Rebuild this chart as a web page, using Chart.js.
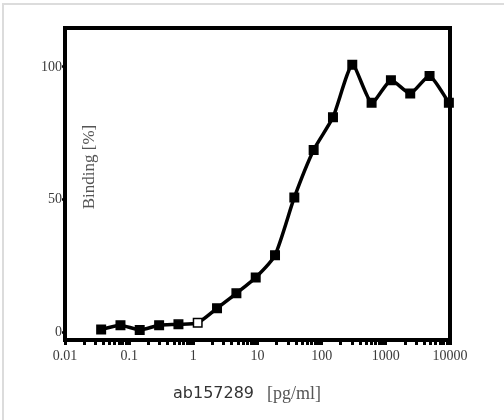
<!DOCTYPE html>
<html>
<head>
<meta charset="utf-8">
<script src="https://cdn.jsdelivr.net/npm/chart.js@4"></script>
<style>
  html, body { margin: 0; padding: 0; background: #fff; }
  canvas { display: block; }
</style>
</head>
<body>
<canvas id="c" width="504" height="420"></canvas>
<script>
// Data
const concentrations = [0.0366, 0.0732, 0.146, 0.293, 0.586, 1.17, 2.34, 4.69, 9.38, 18.75, 37.5, 75, 150, 300, 600, 1200, 2400, 4800, 9600];
const binding = [1.0, 2.6, 0.8, 2.6, 2.9, 3.5, 9, 14.6, 20.6, 29, 50.8, 68.7, 81, 100.8, 86.5, 95, 90, 96.6, 86.5];
const openPointIndex = 5;

const xTickLabels = ['0.01', '0.1', '1', '10', '100', '1000', '10000'];
const yTickValues = [0, 50, 100];
const yTitle = 'Binding [%]';
const xTitleMain = 'ab157289';
const xTitleUnit = '[pg/ml]';

// tick positions for the log axis (decades + minor multiples)
const decades = xTickLabels.map(Number);
const xTickValues = [];
for (let d = 0; d < decades.length - 1; d++) {
  for (let m = 1; m <= 9; m++) xTickValues.push(+(decades[d] * m).toPrecision(6));
}
xTickValues.push(decades[decades.length - 1]);

const points = concentrations.map((c, i) => ({ x: c, y: binding[i] }));

const framePlugin = {
  id: 'frame',
  beforeDraw(chart) {
    const ctx = chart.ctx;
    ctx.save();
    ctx.fillStyle = '#fff';
    ctx.fillRect(0, 0, chart.width, chart.height);
    ctx.strokeStyle = '#dcdcdc';
    ctx.lineWidth = 2;
    ctx.beginPath();
    ctx.moveTo(3, 420);
    ctx.lineTo(3, 4);
    ctx.lineTo(504, 4);
    ctx.stroke();
    ctx.restore();
  },
  beforeDatasetsDraw(chart) {
    const a = chart.chartArea;
    const ctx = chart.ctx;
    ctx.save();
    ctx.strokeStyle = '#000';
    ctx.lineWidth = 4;
    ctx.strokeRect(a.left, a.top, a.right - a.left, a.bottom - a.top);
    // axis titles
    ctx.fillStyle = '#555';
    ctx.font = '17px "Liberation Serif", "Times New Roman", serif';
    ctx.textAlign = 'center';
    ctx.textBaseline = 'middle';
    ctx.translate(90, 167);
    ctx.rotate(-Math.PI / 2);
    ctx.fillText(yTitle, 0, 0);
    ctx.restore();

    ctx.save();
    ctx.textBaseline = 'middle';
    ctx.textAlign = 'left';
    ctx.fillStyle = '#333';
    ctx.font = '16px "DejaVu Sans", sans-serif';
    const w1 = ctx.measureText(xTitleMain).width;
    ctx.font = '18px "Liberation Serif", serif';
    const w2 = ctx.measureText(xTitleUnit).width;
    const gap = 13;
    const total = w1 + gap + w2;
    const x0 = 247 - total / 2;
    ctx.font = '16px "DejaVu Sans", sans-serif';
    ctx.fillText(xTitleMain, x0, 394);
    ctx.fillStyle = '#555';
    ctx.font = '18px "Liberation Serif", serif';
    ctx.fillText(xTitleUnit, x0 + w1 + gap, 394);
    ctx.restore();
  }
};

new Chart(document.getElementById('c'), {
  type: 'line',
  data: {
    datasets: [{
      data: points,
      borderColor: '#000',
      borderWidth: 3.5,
      tension: 0.2,
      pointStyle: 'rect',
      pointRadius: 6,
      pointBorderWidth: 1.5,
      pointBorderColor: '#000',
      pointBackgroundColor: binding.map((_, i) => i === openPointIndex ? '#fff' : '#000'),
      clip: false
    }]
  },
  options: {
    responsive: false,
    animation: false,
    devicePixelRatio: 1,
    layout: { padding: { left: 0, right: 54, top: 28, bottom: 0 } },
    plugins: { legend: { display: false }, tooltip: { enabled: false } },
    scales: {
      x: {
        type: 'logarithmic',
        min: 0.01,
        max: 10000,
        afterBuildTicks(scale) { scale.ticks = xTickValues.map(v => ({ value: v })); },
        afterFit(scale) { scale.height = 80; },
        border: { display: false },
        grid: { drawOnChartArea: false, drawTicks: true, tickLength: 5, tickWidth: 3, tickColor: '#000', color: '#000' },
        ticks: {
          autoSkip: false,
          maxRotation: 0,
          padding: 3,
          color: '#3a3a3a',
          font: { family: '"Liberation Serif", "Times New Roman", serif', size: 14 },
          callback(v) {
            const i = decades.findIndex(d => Math.abs(Math.log10(d) - Math.log10(v)) < 1e-6);
            return i >= 0 ? xTickLabels[i] : '';
          }
        }
      },
      y: {
        type: 'linear',
        min: -3,
        max: 114.7,
        afterBuildTicks(scale) { scale.ticks = yTickValues.map(v => ({ value: v })); },
        afterFit(scale) { scale.width = 65; },
        border: { display: false },
        grid: { drawOnChartArea: false, drawTicks: true, tickLength: 3, tickWidth: 2.5, tickColor: '#000', color: '#000' },
        ticks: {
          padding: 0,
          color: '#3a3a3a',
          font: { family: '"Liberation Serif", "Times New Roman", serif', size: 14 }
        }
      }
    }
  },
  plugins: [framePlugin]
});
</script>
</body>
</html>
